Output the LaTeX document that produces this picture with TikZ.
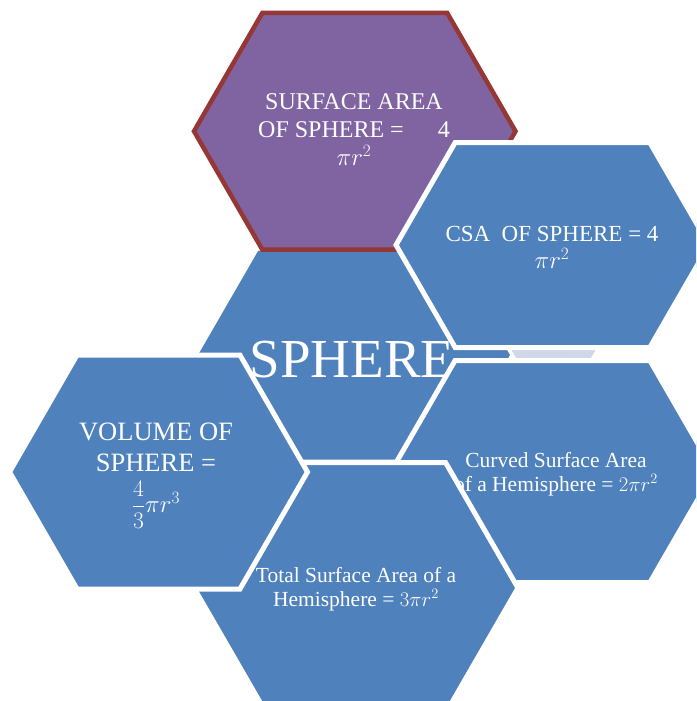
\documentclass[tikz,border=0pt]{standalone}
\usepackage{fontspec}
\setmainfont{Liberation Serif}
\definecolor{hexblue}{HTML}{4F81BD}
\definecolor{hexpurple}{HTML}{8064A2}
\definecolor{hexred}{HTML}{953735}
\definecolor{hexlight}{HTML}{D0D8E8}
\newcommand{\hexshape}[5]{\path[#1] ({#2-#4},{#3}) -- ({#2-#4+0.57735*#5},{#3-#5}) -- ({#2+#4-0.57735*#5},{#3-#5}) -- ({#2+#4},{#3}) -- ({#2+#4-0.57735*#5},{#3+#5}) -- ({#2-#4+0.57735*#5},{#3+#5}) -- cycle;}
\begin{document}
\begin{tikzpicture}[x=1pt,y=-1pt,
  bluehex/.style={fill=hexblue,draw=white,line width=5pt},
  purplehex/.style={fill=hexpurple,draw=hexred,line width=4.5pt},
  lighthex/.style={fill=hexlight},
  hexlabel/.style={text=white,inner sep=0pt,align=center}]
\useasboundingbox (0,0) rectangle (696,701);
\clip (0,0) rectangle (696,701);
% centre hexagon
\hexshape{bluehex}{354}{355}{159}{107}
\node[hexlabel,anchor=base,font=\fontsize{55}{60}\selectfont] (sphere) at (352,377) {SPHERE};
% small pale hexagon (mostly hidden)
\hexshape{lighthex}{553.5}{318}{60.5}{40}
% purple hexagon
\hexshape{purplehex}{354.75}{131.25}{160.75}{118.25}
\node[hexlabel,font=\fontsize{24}{28}\selectfont] (sa) at (354,130) {SURFACE AREA\\OF SPHERE =\hspace{34pt}4\\$\pi r^2$};
% CSA hexagon
\hexshape{bluehex}{552.5}{245}{156.5}{102.5}
\node[hexlabel,font=\fontsize{23}{27}\selectfont] (csa) at (552,247) {CSA\enspace OF SPHERE = 4\\$\pi r^2$};
% curved surface hexagon
\hexshape{bluehex}{552.5}{471.5}{161.5}{111}
\node[hexlabel,font=\fontsize{21.5}{24}\selectfont] (curved) at (556,474) {Curved Surface Area\\of a Hemisphere = $2\pi r^2$};
% total surface hexagon
\hexshape{bluehex}{356}{588}{162}{125.5}
\node[hexlabel,font=\fontsize{21.5}{24}\selectfont] (total) at (356,589) {Total Surface Area of a\\Hemisphere = $3\pi r^2$};
% volume hexagon
\hexshape{bluehex}{158.5}{472}{149}{117}
\node[hexlabel,font=\fontsize{26.5}{31}\selectfont] (volume) at (156,476) {VOLUME OF\\SPHERE =\\[8pt]\scalebox{0.95}{$\displaystyle\frac{4}{3}$}$\pi r^3$};
\end{tikzpicture}
\end{document}
